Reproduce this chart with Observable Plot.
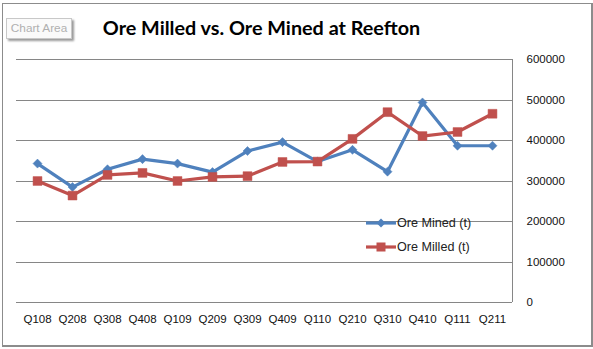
<!DOCTYPE html>
<html>
<head>
<meta charset="utf-8">
<script src="https://cdn.jsdelivr.net/npm/d3@7"></script>
<script src="https://cdn.jsdelivr.net/npm/@observablehq/plot@0.6"></script>
<style>
  html, body { margin: 0; padding: 0; background: #fff; }
  #wrap { position: relative; width: 593px; height: 349px; overflow: hidden; background: #fff; font-family: "Liberation Sans", Arial, sans-serif; }
  #area { position: absolute; left: 2px; top: 3px; width: 588px; height: 341px; border: 1px solid #8c8c8c; border-bottom: 2px solid #8c8c8c; border-right: 2px solid #8c8c8c; background: #fff; }
  #title { position: absolute; left: 0; top: 15px; width: 523px; text-align: center; font-family: Lato, "Open Sans", sans-serif; font-weight: 700; font-size: 19.8px; color: #000; }
  #tip { position: absolute; left: 6px; top: 18px; width: 64px; height: 19px; border: 1px solid #c8c8c8; background: #fafafa; box-shadow: 2px 2px 2px #9a9a9a; color: #b0b0b0; font-size: 11.8px; line-height: 19px; text-align: center; font-family: "Liberation Sans", Arial, sans-serif; white-space: nowrap; }
  #chart { position: absolute; left: 0; top: 0; }
  .leg { position: absolute; left: 366px; height: 14px; display: flex; align-items: center; font-size: 12.6px; color: #222; font-family: "Liberation Sans", Arial, sans-serif; }
  .leg svg { margin-right: 1px; }
</style>
</head>
<body>
<div id="wrap">
  <div id="area"></div>
  <div id="chart"></div>
  <div id="title">Ore Milled vs. Ore Mined at Reefton</div>
  <div id="tip">Chart Area</div>
  <div class="leg" id="leg1" style="top:216px"></div>
  <div class="leg" id="leg2" style="top:240px"></div>
</div>
<script>
const quarters = ["Q108","Q208","Q308","Q408","Q109","Q209","Q309","Q409","Q110","Q210","Q310","Q410","Q111","Q211"];
const oreMined = [343000,285000,329000,354000,343000,322000,374000,396000,348000,377000,323000,494000,387000,387000];
const oreMilled = [300000,264000,315000,320000,300000,310000,312000,347000,348000,404000,470000,411000,421000,466000];
const yTicks = [0,100000,200000,300000,400000,500000,600000];
const seriesNames = ["Ore Mined (t)", "Ore Milled (t)"];
const colors = ["#4F81BD", "#C0504D"];

const diamond = {
  draw(ctx, size) {
    const h = Math.sqrt(size / 2);
    ctx.moveTo(0, -h); ctx.lineTo(h, 0); ctx.lineTo(0, h); ctx.lineTo(-h, 0); ctx.closePath();
  }
};

const rows = [];
quarters.forEach((q, i) => {
  rows.push({q, v: oreMined[i], s: seriesNames[0]});
});
quarters.forEach((q, i) => {
  rows.push({q, v: oreMilled[i], s: seriesNames[1]});
});
const mined = rows.filter(d => d.s === seriesNames[0]);
const milled = rows.filter(d => d.s === seriesNames[1]);

const rightLine = (index, scales, values, dims) => {
  const x = dims.width - dims.marginRight;
  const g = d3.create("svg:line")
    .attr("x1", x).attr("x2", x)
    .attr("y1", dims.marginTop).attr("y2", dims.height - dims.marginBottom)
    .attr("stroke", "#868686").attr("stroke-width", 1).attr("shape-rendering", "crispEdges");
  return g.node();
};

const chart = Plot.plot({
  width: 593,
  height: 349,
  marginLeft: 16,
  marginRight: 81,
  marginTop: 59,
  marginBottom: 47,
  style: { background: "transparent", fontFamily: "Liberation Sans, Arial, sans-serif", fontSize: "11.5px", color: "#111" },
  x: { type: "point", domain: quarters, padding: 0.5 },
  y: { domain: [0, 600000] },
  marks: [
    Plot.ruleY(yTicks, { stroke: "#868686", strokeWidth: 1, strokeOpacity: 1, shapeRendering: "crispEdges" }),
    rightLine,
    Plot.axisY(yTicks, { anchor: "right", tickSize: 0, tickPadding: 14, tickFormat: d3.format("d"), label: null, textAnchor: "start", fill: "#111" }),
    Plot.axisX(quarters, { anchor: "bottom", tickSize: 0, tickPadding: 12, label: null, fill: "#111" }),
    Plot.line(mined, { x: "q", y: "v", stroke: colors[0], strokeWidth: 3.2 }),
    Plot.line(milled, { x: "q", y: "v", stroke: colors[1], strokeWidth: 3.2 }),
    Plot.dot(mined, { x: "q", y: "v", symbol: diamond, r: 3.6, fill: colors[0], stroke: colors[0], strokeWidth: 0.5 }),
    Plot.dot(milled, { x: "q", y: "v", symbol: "square", r: 5, fill: colors[1], stroke: colors[1], strokeWidth: 0.5 })
  ]
});
document.getElementById("chart").appendChild(chart);

function legendItem(el, name, color, sym) {
  const svg = d3.select(el).append("svg").attr("width", 30).attr("height", 14);
  svg.append("line").attr("x1", 0).attr("x2", 30).attr("y1", 7).attr("y2", 7).attr("stroke", color).attr("stroke-width", 3.2);
  if (sym === "diamond") {
    svg.append("path").attr("d", "M15,2.5L19.5,7L15,11.5L10.5,7Z").attr("fill", color);
  } else {
    svg.append("rect").attr("x", 10.5).attr("y", 2.5).attr("width", 9).attr("height", 9).attr("fill", color);
  }
  d3.select(el).append("span").text(name);
}
legendItem(document.getElementById("leg1"), seriesNames[0], colors[0], "diamond");
legendItem(document.getElementById("leg2"), seriesNames[1], colors[1], "square");
</script>
</body>
</html>
